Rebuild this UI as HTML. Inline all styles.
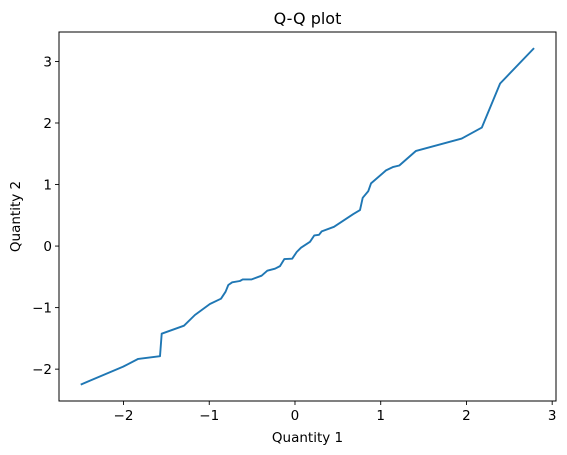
<!DOCTYPE html>
<html><head><meta charset="utf-8"><style>
html,body{margin:0;padding:0;background:#fff;}
svg{display:block;font-family:"DejaVu Sans","Liberation Sans",sans-serif;}
</style></head><body>
<svg id="chart" width="567" height="455" viewBox="0 0 567 455"></svg>
<script>
const xValues=[-2.489,-2.004,-1.829,-1.575,-1.555,-1.295,-1.167,-0.992,-0.863,-0.809,-0.778,-0.732,-0.642,-0.610,-0.505,-0.389,-0.323,-0.233,-0.175,-0.125,-0.032,0.020,0.070,0.175,0.225,0.280,0.312,0.455,0.680,0.758,0.790,0.855,0.887,1.062,1.147,1.217,1.412,1.945,2.179,2.392,2.781];
const yValues=[-2.245,-1.959,-1.834,-1.790,-1.424,-1.294,-1.120,-0.942,-0.856,-0.742,-0.633,-0.589,-0.568,-0.541,-0.541,-0.482,-0.401,-0.368,-0.325,-0.211,-0.206,-0.097,-0.027,0.069,0.173,0.183,0.239,0.313,0.519,0.584,0.784,0.893,1.018,1.229,1.287,1.310,1.547,1.747,1.925,2.641,3.206];
const xTicks=[-2,-1,0,1,2,3];
const yTicks=[-2,-1,0,1,2,3];
const xTickLabels=["\u22122","\u22121","0","1","2","3"];
const yTickLabels=["\u22122","\u22121","0","1","2","3"];

const svg=document.getElementById('chart');
const NS='http://www.w3.org/2000/svg';
const L=59,R=556,T=32,B=401;
const xmin=Math.min(...xValues),xmax=Math.max(...xValues);
const ymin=Math.min(...yValues),ymax=Math.max(...yValues);
const xm=(xmax-xmin)*0.05,ym=(ymax-ymin)*0.05;
const x0=xmin-xm,x1=xmax+xm,y0=ymin-ym,y1=ymax+ym;
function sx(v){return L+(v-x0)/(x1-x0)*(R-L);}
function sy(v){return B-(v-y0)/(y1-y0)*(B-T);}
function mk(tag,attrs){const e=document.createElementNS(NS,tag);for(const k in attrs)e.setAttribute(k,attrs[k]);svg.appendChild(e);return e;}

const t=mk('text',{x:(L+R)/2,y:24,'text-anchor':'middle','font-size':'16',fill:'#000'});
t.textContent='Q-Q plot';



let pts=xValues.map((v,i)=>sx(v).toFixed(1)+','+sy(yValues[i]).toFixed(1)).join(' ');
const line=mk('polyline',{points:pts,fill:'none',stroke:'#1f77b4','stroke-width':'1.9','stroke-linejoin':'round','stroke-linecap':'square'});



const frame=mk('rect',{x:L,y:T,width:R-L,height:B-T,fill:'none',stroke:'#000','stroke-width':'1'});



xTicks.forEach((v,i)=>{
  const x=sx(v);
  const tk=mk('line',{x1:x,y1:B,x2:x,y2:B+4,stroke:'#000','stroke-width':'0.9'});
  
  
  const lb=mk('text',{x:x,y:B+19,'text-anchor':'middle','font-size':'13.5',fill:'#000'});
  lb.textContent=xTickLabels[i];
  
  
});
yTicks.forEach((v,i)=>{
  const y=sy(v);
  const tk=mk('line',{x1:L-4,y1:y,x2:L,y2:y,stroke:'#000','stroke-width':'0.9'});
  
  
  const lb=mk('text',{x:L-7,y:y+5,'text-anchor':'end','font-size':'13.5',fill:'#000'});
  lb.textContent=yTickLabels[i];
  
  
});
const xt=mk('text',{x:(L+R)/2,y:442,'text-anchor':'middle','font-size':'13.5',fill:'#000'});
xt.textContent='Quantity 1';


const yt=mk('text',{x:0,y:0,'text-anchor':'middle','font-size':'13.5',fill:'#000',transform:'translate(20,'+((T+B)/2)+') rotate(-90)'});
yt.textContent='Quantity 2';


</script>
</body></html>
